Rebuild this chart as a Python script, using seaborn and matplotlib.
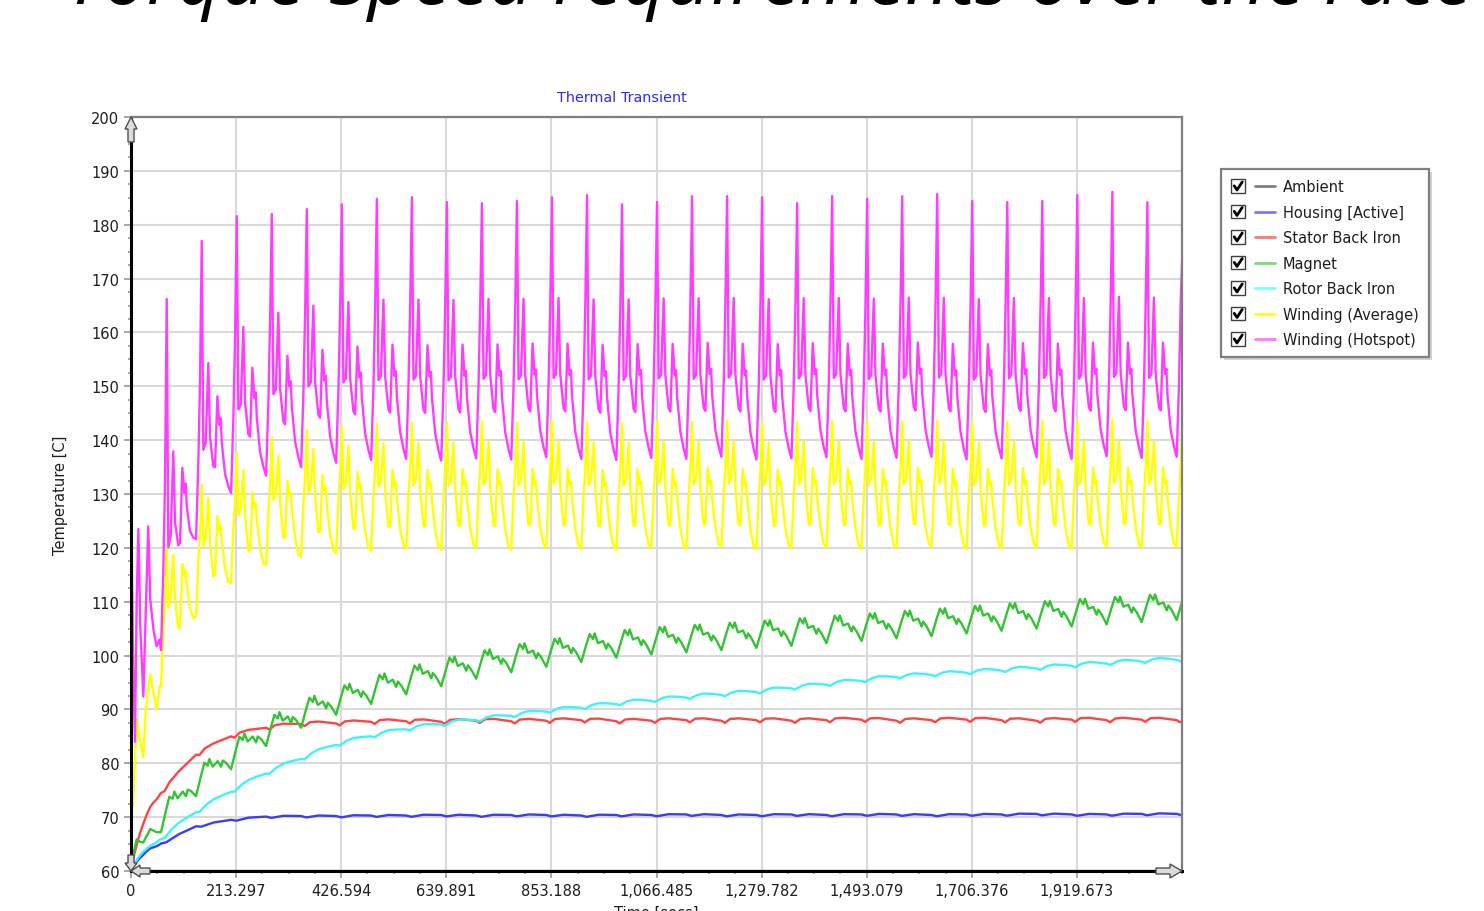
import numpy as np
import pandas as pd
import seaborn as sns
import matplotlib.pyplot as plt
import matplotlib.transforms as mtransforms
from matplotlib.lines import Line2D
from matplotlib.patches import Rectangle, Polygon
from matplotlib.legend_handler import HandlerBase
from matplotlib.ticker import FixedLocator, MultipleLocator

# ---- axis values ----
x_ticks = [0, 213.297, 426.594, 639.891, 853.188, 1066.485, 1279.782, 1493.079, 1706.376, 1919.673]
x_tick_labels = ["0", "213.297", "426.594", "639.891", "853.188", "1,066.485",
                 "1,279.782", "1,493.079", "1,706.376", "1,919.673"]
x_end = 2132.97
y_ticks = list(range(60, 201, 10))

series_names = ["Ambient", "Housing [Active]", "Stator Back Iron", "Magnet",
                "Rotor Back Iron", "Winding (Average)", "Winding (Hotspot)"]
line_colors = ["#808080", "#3c3cf5", "#ff4444", "#33c433", "#3cf2ff", "#ffff00", "#ff3cff"]
legend_colors = ["#808080", "#7878ff", "#ff7878", "#78dc78", "#78ffff", "#ffff1e", "#ff78ff"]

# race: warm-up part, then laps of ~71 s
lap_start = 60.9
lap_time = 71.08
n_laps = 30

# warm-up segment (s) before the first lap
pre_t = [0, 1.5, 4, 8, 11.5, 15, 19, 25, 30, 35, 39, 45.5, 52, 58]
hot_pre = [60, 119.8, 100, 84, 110, 123.5, 105, 92.4, 108, 124, 110.5, 104.9, 101.7, 103]
avg_pre = [60, 77.6, 72, 80, 88.2, 86, 84, 81.1, 90, 94, 96.5, 93, 90, 94.3]
grn_pre = [60, 61.5, 62.8, 64.5, 65.9, 65.6, 65.4, 65.3, 66.2, 67.0, 67.8, 67.5, 67.2, 67.2]
red_pre = [60, 61.2, 62.2, 63.6, 64.9, 66.0, 67.2, 68.8, 70.0, 71.1, 71.9, 72.7, 73.3, 74.1]
cya_pre = [60, 60.4, 60.9, 61.5, 62.0, 62.5, 63.0, 63.6, 64.0, 64.4, 64.7, 65.0, 65.3, 65.8]
blu_pre = [60, 60.4, 60.8, 61.3, 61.7, 62.1, 62.5, 63.0, 63.5, 63.9, 64.2, 64.4, 64.6, 64.9]

# level at the start of each lap (31 values: lap 0..29 and the end)
hot_base = [101.0, 121.6, 130.2, 133.4, 135.0, 135.8, 136.3, 136.5, 136.2, 136.6, 136.4,
            136.8, 136.5, 136.3, 136.7, 136.5, 136.9, 136.4, 136.6, 136.8, 136.5, 136.7,
            136.9, 136.4, 136.6, 136.8, 136.5, 137.0, 136.7, 136.9, 137.0]
hot_peak = [166.2, 177.0, 181.6, 182.0, 182.9, 183.8, 184.8, 185.1, 184.2, 184.0,
            184.4, 185.1, 185.5, 183.8, 184.2, 185.3, 185.3, 185.1, 184.0, 185.3,
            184.8, 185.3, 185.7, 184.4, 184.2, 184.4, 185.5, 186.1, 184.2, 175.0]
avg_base = [94.3, 107.3, 113.5, 116.8, 118.3, 119.0, 119.5, 119.8, 119.6, 120.0, 119.7,
            120.1, 119.8, 119.6, 120.0, 119.8, 120.2, 119.7, 119.9, 120.1, 119.8, 120.0,
            120.2, 119.7, 119.9, 120.1, 119.8, 120.3, 120.0, 120.2, 120.3]
grn_base = [67.2, 73.9, 78.9, 83.2, 86.6, 89.0, 91.0, 92.8, 94.3, 95.7, 96.9, 97.9,
            98.8, 99.6, 100.2, 100.6, 101.0, 101.4, 101.8, 102.3, 102.7, 103.2, 103.6,
            104.1, 104.6, 105.0, 105.4, 105.8, 106.2, 106.6, 107.0]
red_base = [74.5, 81.6, 85.0, 86.6, 87.3, 87.4, 87.7, 87.8, 87.7, 87.9, 87.8, 87.9,
            88.0, 87.8, 87.9, 88.0, 87.9, 88.0, 87.9, 88.0, 88.1, 87.9, 88.0, 88.1,
            88.0, 87.9, 88.1, 88.0, 88.1, 88.0, 88.1]
cya_base = [65.9, 70.9, 74.7, 78.1, 80.8, 83.4, 85.0, 86.3, 87.2, 88.0, 88.8, 89.6,
            90.3, 91.0, 91.6, 92.2, 92.7, 93.2, 93.9, 94.6, 95.3, 96.0, 96.4, 96.8,
            97.2, 97.6, 98.1, 98.5, 98.9, 99.2, 99.5]
blu_base = [65.1, 68.3, 69.5, 70.1, 70.2, 70.2, 70.3, 70.3, 70.4, 70.3, 70.4, 70.4,
            70.3, 70.4, 70.4, 70.5, 70.4, 70.4, 70.5, 70.4, 70.5, 70.5, 70.4, 70.5,
            70.5, 70.6, 70.5, 70.5, 70.6, 70.6, 70.6]

# shape of one lap: (fraction of lap, rise above the lap's base level)
hot_frac = [0, 0.066, 0.114, 0.163, 0.209, 0.277, 0.351, 0.40, 0.494, 0.543,
            0.609, 0.666, 0.706, 0.734, 0.829, 0.923]
hot_delta = [0, 13.6, 28.5, 47.9, 14.8, 15.5, 29.7, 15.5, 9.3, 8.7,
             21.3, 15.5, 16.4, 11.7, 5.0, 1.9]
avg_delta = [0, 9.9, 14.8, 23.5, 11.8, 13.0, 19.8, 11.1, 4.3, 4.3,
             14.8, 11.8, 12.4, 9.3, 3.7, 0.6]
grn_frac = [0, 0.143, 0.238, 0.333, 0.381, 0.476, 0.619, 0.714, 0.762, 0.857]
grn_delta = [0, 3.1, 5.0, 4.0, 5.0, 3.1, 3.4, 1.9, 2.8, 1.9]
red_frac = [0, 0.1, 0.25, 0.5, 0.75]
red_delta = [0, -0.4, 0.3, 0.4, 0.2]
cya_frac = [0, 0.1, 0.3, 0.5, 0.75]
cya_delta = [0, -0.3, 0.3, 0.5, 0.3]
blu_frac = [0, 0.15, 0.5]
blu_delta = [0, -0.25, 0.1]


def race_series(pre, base, frac, delta, peaks=None, peak_idx=3):
    t, v = list(pre_t), list(pre)
    for k in range(n_laps):
        lo, hi = base[k], base[k + 1]
        for i, f in enumerate(frac):
            t.append(lap_start + (k + f) * lap_time)
            if peaks is not None and i == peak_idx:
                v.append(peaks[k])
            else:
                v.append(lo + (hi - lo) * f + delta[i])
    t.append(lap_start + n_laps * lap_time)
    v.append(base[n_laps])
    return t, v


curves = {
    "Ambient": ([0, x_end], [60, 60]),
    "Housing [Active]": race_series(blu_pre, blu_base, blu_frac, blu_delta),
    "Stator Back Iron": race_series(red_pre, red_base, red_frac, red_delta),
    "Magnet": race_series(grn_pre, grn_base, grn_frac, grn_delta),
    "Rotor Back Iron": race_series(cya_pre, cya_base, cya_frac, cya_delta),
    "Winding (Average)": race_series(avg_pre, avg_base, hot_frac, avg_delta),
    "Winding (Hotspot)": race_series(hot_pre, hot_base, hot_frac, hot_delta, hot_peak),
}
frames = [pd.DataFrame({"time": t, "temp": v, "series": name}) for name, (t, v) in curves.items()]
df = pd.concat(frames, ignore_index=True)

# ---- figure ----
sns.set_style("white")
plt.rcParams["font.family"] = ["DejaVu Sans"]
W, H = 1484, 912
fig = plt.figure(figsize=(W / 100, H / 100), dpi=100)
ax = fig.add_axes([131 / W, 1 - 872 / H, 1051 / W, 754 / H])

sns.lineplot(data=df, x="time", y="temp", hue="series", hue_order=series_names,
             palette=line_colors, estimator=None, sort=False, legend=False,
             linewidth=1.7, ax=ax)

ax.set_xlim(0, x_end)
ax.set_ylim(60, 200)
ax.xaxis.set_major_locator(FixedLocator(x_ticks))
ax.set_xticklabels(x_tick_labels)
ax.xaxis.set_minor_locator(MultipleLocator(213.297 / 4))
ax.set_yticks(y_ticks)
ax.set_yticklabels([str(v) for v in y_ticks])
ax.yaxis.set_minor_locator(MultipleLocator(2.5))
ax.tick_params(which="major", length=5, width=1.2, color="#9a9a9a", labelsize=10.5,
               labelcolor="#1e1e1e", pad=3.5)
ax.tick_params(which="minor", length=2.5, width=1.2, color="#9a9a9a")
ax.tick_params(axis="x", which="both", bottom=True)
ax.tick_params(axis="y", which="both", left=True)
ax.grid(True, which="major", color="#d9d9d9", linewidth=1.5)
ax.set_axisbelow(True)

for side in ["left", "bottom"]:
    ax.spines[side].set_color("black")
    ax.spines[side].set_linewidth(2.2)
for side in ["top", "right"]:
    ax.spines[side].set_color("#7f7f7f")
    ax.spines[side].set_linewidth(1.6)

ax.set_xlabel("Time [secs]", fontsize=10.5, color="#1e1e1e")
ax.xaxis.set_label_coords(0.5, -0.045)
ax.set_ylabel("Temperature [C]", fontsize=10.5, color="#1e1e1e")
ax.yaxis.set_label_coords(-0.06, 0.5)

# hollow arrows at the axis ends (pixel coords, y from top)
px = mtransforms.IdentityTransform()
arrows = [
    [(128, 143), (128, 130), (125, 130), (131, 118), (137, 130), (134, 130), (134, 143)],
    [(1156, 869), (1170, 869), (1170, 865), (1182, 872), (1170, 879), (1170, 875), (1156, 875)],
    [(128, 856), (128, 864), (125, 864), (131, 872), (137, 864), (134, 864), (134, 856)],
    [(150, 869), (140, 869), (140, 866), (131, 872), (140, 878), (140, 875), (150, 875)],
]
for pts in arrows:
    fig.patches.append(Polygon([(x, H - y) for x, y in pts], closed=True, transform=px,
                               facecolor="#dcdcdc", edgecolor="#505050", lw=1.0, zorder=5))

fig.text(622 / W, 1 - 98 / H, "Thermal Transient", ha="center", va="center",
         fontsize=10.4, color="#2a2aff")
fig.text(65 / W, 1 - 4 / H, "Torque-Speed requirements over the race", ha="left",
         va="baseline", fontsize=55.5, style="italic", color="black",
         family=["Open Sans", "DejaVu Sans"])


class CheckHandler(HandlerBase):
    def create_artists(self, legend, orig_handle, xdescent, ydescent, width, height,
                       fontsize, trans):
        s = height * 1.35
        cy = height / 2 - ydescent
        x0 = -xdescent
        box = Rectangle((x0, cy - s / 2), s, s, facecolor="white", edgecolor="#404040",
                        lw=1.0, transform=trans)
        check = Line2D([x0 + 0.22 * s, x0 + 0.42 * s, x0 + 0.8 * s],
                       [cy + 0.02 * s, cy - 0.28 * s, cy + 0.3 * s],
                       color="black", lw=2.0, transform=trans)
        line = Line2D([x0 + width * 0.55, x0 + width], [cy, cy],
                      color=orig_handle.get_color(), lw=2.0, transform=trans)
        return [box, check, line]


handles = [Line2D([], [], color=c) for c in legend_colors]
leg = fig.legend(handles, series_names, loc="upper left",
                 bbox_to_anchor=(1221 / W, 1 - 170 / H), bbox_transform=fig.transFigure,
                 handler_map={Line2D: CheckHandler()}, fontsize=10.5, frameon=True,
                 fancybox=False, edgecolor="#7f7f7f", facecolor="white", framealpha=1,
                 borderpad=0.7, labelspacing=0.72, handlelength=3.0, handletextpad=0.55,
                 borderaxespad=0,
                 shadow={"ox": 2, "oy": -2, "facecolor": "#b4b4b4", "edgecolor": "none",
                         "alpha": 0.6})
leg.get_frame().set_linewidth(1.6)
for txt in leg.get_texts():
    txt.set_color("#1e1e1e")

fig.savefig("out.png", dpi=100)
